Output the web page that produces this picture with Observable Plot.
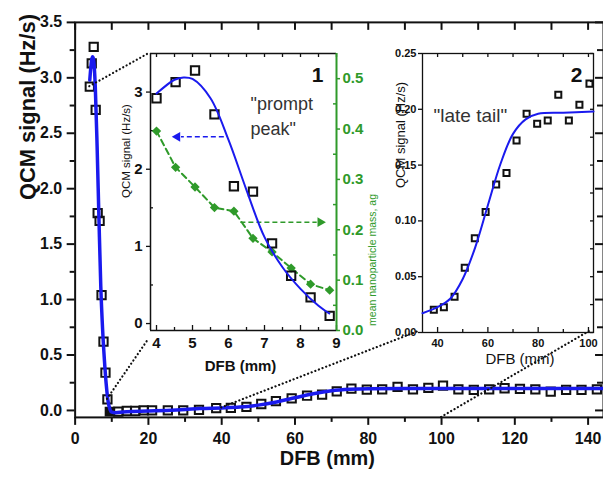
<!DOCTYPE html>
<html><head><meta charset="utf-8">
<script src="https://cdn.jsdelivr.net/npm/d3@7"></script>
<script src="https://cdn.jsdelivr.net/npm/@observablehq/plot@0.6"></script>
<style>
html,body{margin:0;padding:0;background:#fff;overflow:hidden;}
#wrap{position:relative;width:603px;height:480px;overflow:hidden;}
#wrap svg{position:absolute;}
</style></head>
<body><div id="wrap"></div>
<script>
// ---------- data ----------
// "prompt peak" (inset 1 and main plot)
const peakDFB  = [4.00, 4.53, 5.07, 5.61, 6.15, 6.68, 7.21, 7.74, 8.28, 8.81];
const peakQCM  = [2.92, 3.13, 3.28, 2.71, 1.78, 1.71, 1.04, 0.62, 0.34, 0.10];
const peakMass = [0.396, 0.324, 0.285, 0.244, 0.237, 0.183, 0.156, 0.124, 0.092, 0.080];
const peakFitDFB = [4.0, 4.5, 4.75, 5.0, 5.5, 6.0, 6.5, 7.0, 7.5, 8.0, 8.5, 8.8];
const peakFitQCM = [2.98, 3.16, 3.19, 3.17, 2.92, 2.38, 1.73, 1.12, 0.73, 0.45, 0.23, 0.13];
// fitted curve between the peak and the tail (main plot)
const gapFitDFB = [9.0, 9.5, 10, 11, 13, 16, 20, 25, 30];
const gapFitQCM = [0.08, 0.01, -0.015, -0.02, -0.015, -0.01, -0.005, 0.0, 0.008];
// "late tail"
const tailDFB = [11.8, 14.1, 16.4, 18.7, 21.0, 25.3, 29.5, 33.8, 38.5, 42.5, 46.75, 50.8, 54.8, 59.1, 63.3, 67.4, 71.4, 75.4, 79.6, 83.8, 88.0, 92.2, 96.4, 100.4, 104.6, 108.8, 113.0, 117.2, 121.4, 125.6, 129.8, 134.0, 138.2, 142.4];
const tailQCM = [-0.01, -0.005, -0.005, 0.0, 0.0, 0.0, 0.0, 0.005, 0.0203, 0.0227, 0.032, 0.058, 0.0845, 0.108, 0.1326, 0.143, 0.172, 0.196, 0.187, 0.190, 0.213, 0.190, 0.204, 0.223, 0.190, 0.186, 0.190, 0.200, 0.195, 0.190, 0.170, 0.186, 0.186, 0.190];
const tailFitDFB = [34, 40, 45, 50, 55, 60, 65, 70, 75, 80, 90, 102, 144];
const tailFitQCM = [0.0173, 0.0227, 0.0302, 0.048, 0.0765, 0.114, 0.151, 0.178, 0.191, 0.196, 0.197, 0.198, 0.198];
// overlapping filled marker at the end of the peak
const filledDFB = [9.4];
const filledQCM = [-0.01];

// tick values
const mainXMajor = [0, 20, 40, 60, 80, 100, 120, 140];
const mainXMinor = [10, 30, 50, 70, 90, 110, 130];
const mainYMajor = [0, 0.5, 1.0, 1.5, 2.0, 2.5, 3.0, 3.5];
const mainYMinor = [0.25, 0.75, 1.25, 1.75, 2.25, 2.75, 3.25];
const in1XMajor = [4, 5, 6, 7, 8, 9];
const in1XMinor = [4.5, 5.5, 6.5, 7.5, 8.5];
const in1YMajor = [0, 1, 2, 3];
const in1YMinor = [0.5, 1.5, 2.5];
const massMajor = [0.0, 0.1, 0.2, 0.3, 0.4, 0.5];
const massMinor = [0.05, 0.15, 0.25, 0.35, 0.45];
const in2XMajor = [40, 60, 80, 100];
const in2XMinor = [50, 70, 90];
const in2YMajor = [0.00, 0.05, 0.10, 0.15, 0.20, 0.25];
const in2YMinor = [0.025, 0.075, 0.125, 0.175, 0.225];

// ---------- tables ----------
const peak = peakDFB.map((x, i) => ({x, y: peakQCM[i], m: peakMass[i]}));
const tail = tailDFB.map((x, i) => ({x, y: tailQCM[i]}));
const peakFit = peakFitDFB.map((x, i) => ({x, y: peakFitQCM[i]}));
const gapFit = gapFitDFB.map((x, i) => ({x, y: gapFitQCM[i]}));
const tailFit = tailFitDFB.map((x, i) => ({x, y: tailFitQCM[i]}));
const filled = filledDFB.map((x, i) => ({x, y: filledQCM[i]}));
const mainFit = peakFit.concat(gapFit, tailFit);

const FONT = '"Liberation Sans", Arial, Helvetica, sans-serif';
const BLUE = "#1a1aee", GREEN = "#2f9a2a", INK = "#111", TXT = "#333";
const wrap = document.getElementById("wrap");
const place = (svg, left, top) => { svg.style.left = left + "px"; svg.style.top = top + "px"; wrap.appendChild(svg); return svg; };

// ---------- main plot ----------
const W = 606, H = 480, ML = 75, MR = 0, MT = 22, MB = 61;
const mainXDomain = [0, 144.2], mainYDomain = [-0.063, 3.5];
const mfw = W - ML - MR, mfh = H - MT - MB;
const tk = {stroke: INK, strokeWidth: 2};
const main = Plot.plot({
  width: W, height: H, marginLeft: ML, marginRight: MR, marginTop: MT, marginBottom: MB,
  x: {domain: mainXDomain}, y: {domain: mainYDomain},
  style: {fontFamily: FONT, background: "transparent", color: INK},
  marks: [
    Plot.tickX(mainXMajor, {x: d => d, insetTop: mfh, insetBottom: -8, ...tk}),
    Plot.tickX(mainXMinor, {x: d => d, insetTop: mfh, insetBottom: -5, ...tk}),
    Plot.tickX(mainXMajor.concat(mainXMinor), {x: d => d, insetBottom: mfh - 8, ...tk}),
    Plot.tickY(mainYMajor, {y: d => d, insetRight: mfw, insetLeft: -8, ...tk}),
    Plot.tickY(mainYMinor, {y: d => d, insetRight: mfw, insetLeft: -5, ...tk}),
    Plot.tickY(mainYMajor, {y: d => d, insetLeft: mfw - 8, ...tk}),
    Plot.tickY(mainYMinor, {y: d => d, insetLeft: mfw - 6, ...tk}),
    Plot.frame({stroke: INK, strokeWidth: 2}),
    Plot.axisX(mainXMajor, {tickSize: 0, tickPadding: 15, fontSize: 16, fontWeight: "bold", label: null, fill: INK}),
    Plot.axisY(mainYMajor, {tickSize: 0, tickPadding: 13, tickFormat: d3.format(".1f"), fontSize: 16, fontWeight: "bold", label: null, fill: INK}),
    Plot.text(["QCM signal (Hz/s)"], {text: d => d, frameAnchor: "left", dx: -47, dy: -20, rotate: -90, fontSize: 22, fontWeight: "bold", fill: INK}),
    Plot.text(["DFB (mm)"], {text: d => d, frameAnchor: "bottom", dx: -12, dy: 48, fontSize: 20, fontWeight: "bold", fill: INK}),
    Plot.dot(peak.concat(tail), {x: "x", y: "y", symbol: "square", r: 4.7, stroke: INK, strokeWidth: 2, fill: "none"}),
    Plot.dot(filled, {x: "x", y: "y", symbol: "square", r: 4.7, fill: INK, stroke: INK}),
    Plot.line(mainFit, {x: "x", y: "y", curve: "monotone-x", stroke: BLUE, strokeWidth: 3.5})
  ]
});
place(main, 0, 0);

// ---------- inset layouts ----------
const IN1 = {left: 100, top: 40, width: 290, height: 340, ml: 50, mr: 54, mt: 13, mb: 50};
const IN2 = {left: 375, top: 40, width: 228, height: 340, ml: 47, mr: 10, mt: 13, mb: 48};
const frameOf = b => ({l: b.left + b.ml, r: b.left + b.width - b.mr, t: b.top + b.mt, b: b.top + b.height - b.mb});
const f1 = frameOf(IN1), f2 = frameOf(IN2);

// dotted connectors (main data -> inset corners)
{
  const sx = main.scale("x"), sy = main.scale("y");
  const links = [
    [peakDFB[0], peakQCM[0], f1.l, f1.t],
    [peakDFB[9], peakQCM[9], f1.l - 2, f1.b + 12],
    [tailFitDFB[1], tailFitQCM[1], f2.l, f2.b],
    [in2XMajor[3], mainYDomain[0], f2.r, f2.b]
  ];
  d3.select(main).append("g")
    .attr("stroke", INK).attr("stroke-width", 2.2).attr("stroke-linecap", "round").attr("stroke-dasharray", "0.1,3.8")
    .selectAll("line").data(links).join("line")
    .attr("x1", d => sx.apply(d[0])).attr("y1", d => sy.apply(d[1]))
    .attr("x2", d => d[2]).attr("y2", d => d[3]);
}

// ---------- inset 1: prompt peak ----------
const in1XDomain = [3.833, 9], in1YDomain = [-0.09, 3.5], massDomain = [0, 0.55];
const toLeft = m => in1YDomain[0] + (m - massDomain[0]) * (in1YDomain[1] - in1YDomain[0]) / (massDomain[1] - massDomain[0]);
const fromLeft = v => massDomain[0] + (v - in1YDomain[0]) * (massDomain[1] - massDomain[0]) / (in1YDomain[1] - in1YDomain[0]);
const fw1 = IN1.width - IN1.ml - IN1.mr, fh1 = IN1.height - IN1.mt - IN1.mb;
const t1 = {stroke: INK, strokeWidth: 1.3};
const g1 = {stroke: GREEN, strokeWidth: 1.5};
// annotation arrows (inset 1 data units)
const arrowBlue = {x1: 5.87, x2: 4.68, head: 4.58, y: 2.42};
const arrowGreen = {x1: 6.33, x2: 8.45, head: 8.55, m: 0.215};
const inset1 = Plot.plot({
  width: IN1.width, height: IN1.height, marginLeft: IN1.ml, marginRight: IN1.mr, marginTop: IN1.mt, marginBottom: IN1.mb,
  x: {domain: in1XDomain}, y: {domain: in1YDomain},
  style: {fontFamily: FONT, background: "transparent", color: INK},
  marks: [
    Plot.tickX(in1XMajor, {x: d => d, insetTop: fh1 - 5, ...t1}),
    Plot.tickX(in1XMinor, {x: d => d, insetTop: fh1 - 3, ...t1}),
    Plot.tickX(in1XMajor.concat(in1XMinor), {x: d => d, insetBottom: fh1 - 4, ...t1}),
    Plot.tickY(in1YMajor, {y: d => d, insetRight: fw1, insetLeft: -4, ...t1}),
    Plot.tickY(in1YMinor, {y: d => d, insetRight: fw1 - 3, ...t1}),
    Plot.tickY(massMajor.map(toLeft), {y: d => d, insetLeft: fw1, insetRight: -4, ...g1}),
    Plot.tickY(massMinor.map(toLeft), {y: d => d, insetLeft: fw1 - 3, ...g1}),
    Plot.ruleY([in1YDomain[0], in1YDomain[1]], {y: d => d, stroke: INK, strokeWidth: 1.5}),
    Plot.ruleX([in1XDomain[0]], {x: d => d, stroke: INK, strokeWidth: 1.5}),
    Plot.ruleX([in1XDomain[1]], {x: d => d, stroke: GREEN, strokeWidth: 2}),
    Plot.axisX(in1XMajor, {tickSize: 0, tickPadding: 7, tickFormat: d3.format("d"), fontSize: 15, fontWeight: "bold", label: null, fill: INK}),
    Plot.axisY(in1YMajor, {tickSize: 0, tickPadding: 8, tickFormat: d3.format("d"), fontSize: 15, fontWeight: "bold", label: null, fill: INK}),
    Plot.axisY(massMajor.map(toLeft), {anchor: "right", tickSize: 0, tickPadding: 6, tickFormat: v => d3.format(".1f")(fromLeft(v)), fontSize: 15, fontWeight: "bold", label: null, fill: GREEN}),
    Plot.text(["QCM signal (Hz/s)"], {text: d => d, frameAnchor: "left", dx: -24, dy: 6, rotate: -90, fontSize: 11.5, fill: INK}),
    Plot.text(["mean nanoparticle mass, ag"], {text: d => d, frameAnchor: "right", dx: 36, dy: 2, rotate: -90, fontSize: 10.5, fill: GREEN}),
    Plot.text(["DFB (mm)"], {text: d => d, frameAnchor: "bottom", dx: -3, dy: 40, fontSize: 15, fontWeight: "bold", fill: INK}),
    Plot.text(["1"], {text: d => d, frameAnchor: "top-right", dx: -13, dy: 14, textAnchor: "end", fontSize: 21, fontWeight: "bold", fill: INK}),
    Plot.text(['"prompt'], {text: d => d, frameAnchor: "top-left", dx: 100, dy: 44, textAnchor: "start", fontSize: 18, fill: TXT}),
    Plot.text(['peak"'], {text: d => d, frameAnchor: "top-left", dx: 100, dy: 69, textAnchor: "start", fontSize: 18, fill: TXT}),
    // mass (right axis), dashed green with diamonds
    Plot.line(peak, {x: "x", y: d => toLeft(d.m), stroke: GREEN, strokeWidth: 2, strokeDasharray: "6,4"}),
    Plot.dot(peak, {x: "x", y: d => toLeft(d.m), symbol: "diamond2", r: 4.2, fill: GREEN}),
    // arrows
    Plot.link([arrowBlue], {x1: "x1", x2: "x2", y1: "y", y2: "y", stroke: BLUE, strokeWidth: 1.5, strokeDasharray: "5,3"}),
    Plot.dot([arrowBlue], {x: "head", y: "y", symbol: "triangle", rotate: -90, r: 3.6, fill: BLUE}),
    Plot.link([arrowGreen], {x1: "x1", x2: "x2", y1: d => toLeft(d.m), y2: d => toLeft(d.m), stroke: GREEN, strokeWidth: 1.5, strokeDasharray: "5,3"}),
    Plot.dot([arrowGreen], {x: "head", y: d => toLeft(d.m), symbol: "triangle", rotate: 90, r: 3.6, fill: GREEN}),
    // QCM data and fit
    Plot.dot(peak, {x: "x", y: "y", symbol: "square", r: 4.7, stroke: INK, strokeWidth: 2, fill: "none"}),
    Plot.line(peakFit, {x: "x", y: "y", curve: "catmull-rom", stroke: BLUE, strokeWidth: 2})
  ]
});
place(inset1, IN1.left, IN1.top);

// ---------- inset 2: late tail ----------
const in2XDomain = [34, 102], in2YDomain = [0, 0.25];
const fw2 = IN2.width - IN2.ml - IN2.mr, fh2 = IN2.height - IN2.mt - IN2.mb;
const inX2 = d => d.x >= in2XDomain[0] && d.x <= in2XDomain[1];
const inset2 = Plot.plot({
  width: IN2.width, height: IN2.height, marginLeft: IN2.ml, marginRight: IN2.mr, marginTop: IN2.mt, marginBottom: IN2.mb,
  x: {domain: in2XDomain}, y: {domain: in2YDomain},
  style: {fontFamily: FONT, background: "transparent", color: INK},
  marks: [
    Plot.tickX(in2XMajor, {x: d => d, insetTop: fh2 - 5, ...t1}),
    Plot.tickX(in2XMinor, {x: d => d, insetTop: fh2 - 3, ...t1}),
    Plot.tickX(in2XMajor.concat(in2XMinor), {x: d => d, insetBottom: fh2 - 4, ...t1}),
    Plot.tickY(in2YMajor, {y: d => d, insetRight: fw2, insetLeft: -4, ...t1}),
    Plot.tickY(in2YMajor.concat(in2YMinor), {y: d => d, insetLeft: fw2 - 3, ...t1}),
    Plot.frame({stroke: INK, strokeWidth: 1.3}),
    Plot.axisX(in2XMajor, {tickSize: 0, tickPadding: 7, fontSize: 11, fontWeight: "bold", label: null, fill: INK}),
    Plot.axisY(in2YMajor, {tickSize: 0, tickPadding: 6, tickFormat: d3.format(".2f"), fontSize: 11, fontWeight: "bold", label: null, fill: INK}),
    Plot.text(["QCM signal (Hz/s)"], {text: d => d, frameAnchor: "left", dx: -22, dy: -5, rotate: -90, fontSize: 13, fill: INK}),
    Plot.text(["DFB (mm)"], {text: d => d, frameAnchor: "bottom", dx: 12, dy: 31, fontSize: 15, fill: INK}),
    Plot.text(["2"], {text: d => d, frameAnchor: "top-right", dx: -11, dy: 14, textAnchor: "end", fontSize: 21, fontWeight: "bold", fill: INK}),
    Plot.text(['"late tail"'], {text: d => d, frameAnchor: "top-left", dx: 11, dy: 55, textAnchor: "start", fontSize: 19, fill: TXT}),
    Plot.dot(tail.filter(inX2), {x: "x", y: "y", symbol: "square", r: 3.4, stroke: INK, strokeWidth: 2, fill: "none"}),
    Plot.line(tailFit.filter(inX2), {x: "x", y: "y", curve: "catmull-rom", stroke: BLUE, strokeWidth: 2})
  ]
});
place(inset2, IN2.left, IN2.top);
</script>
</body></html>
